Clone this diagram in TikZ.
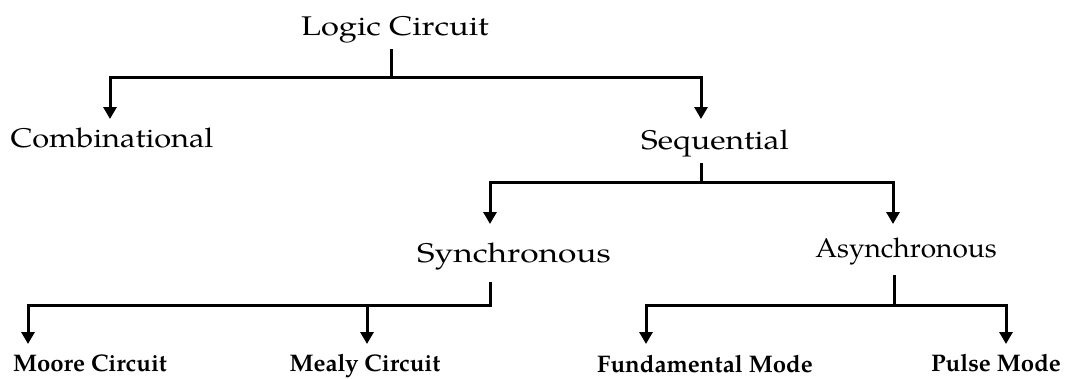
\documentclass[tikz,border=0pt]{standalone}
\usepackage{fontspec}
\setmainfont{TeX Gyre Pagella}
\usetikzlibrary{arrows.meta}
\begin{document}
\begin{tikzpicture}[x=1pt,y=-1pt,
  lbl/.style={inner sep=0pt, anchor=base, font=\fontsize{27}{30}\selectfont},
  leaf/.style={inner sep=0pt, anchor=base, font=\bfseries\fontsize{24}{27}\selectfont},
  link/.style={line width=3pt},
  arr/.style={link, -{Triangle[width=13pt,length=12pt]}}]
\useasboundingbox (0,0) rectangle (1088,378);
% nodes
\node[lbl] (lc) at (395,35) {\scalebox{1.21}[1]{Logic Circuit}};
\node[lbl] (comb) at (112,147) {\scalebox{1.14}[1]{Combinational}};
\node[lbl] (seq) at (715,149) {\scalebox{1.18}[1]{Sequential}};
\node[lbl] (sync) at (514,262) {\scalebox{1.24}[1]{Synchronous}};
\node[lbl] (async) at (906,257) {\scalebox{1.04}[1]{Asynchronous}};
\node[leaf] (moore) at (90,371) {Moore Circuit};
\node[leaf] (mealy) at (365,371) {Mealy Circuit};
\node[leaf] (fund) at (705,372) {Fundamental Mode};
\node[leaf] (pulse) at (996,371) {Pulse Mode};
% junction coordinates
\coordinate (lcS) at (391,49);
\coordinate (j1) at (391,77);
\coordinate (combN) at (110,119);
\coordinate (seqN) at (701,119);
\coordinate (seqS) at (701,163);
\coordinate (j2) at (701,182);
\coordinate (syncN) at (490,224);
\coordinate (asyncN) at (893,224);
\coordinate (syncS) at (490,282);
\coordinate (j3) at (490,305);
\coordinate (j3m) at (367,305);
\coordinate (mooreN) at (28,344);
\coordinate (mealyN) at (367,344);
\coordinate (asyncS) at (894,275);
\coordinate (j4) at (894,305);
\coordinate (fundN) at (646,344);
\coordinate (pulseN) at (1006,344);
% connectors
\draw[link] (lcS) -- (j1);
\draw[arr] (j1) -| (combN);
\draw[arr] (j1) -| (seqN);
\draw[link] (seqS) -- (j2);
\draw[arr] (j2) -| (syncN);
\draw[arr] (j2) -| (asyncN);
\draw[arr] (syncS) -- (j3) -| (mooreN);
\draw[arr] (j3m) -- (mealyN);
\draw[link] (asyncS) -- (j4);
\draw[arr] (j4) -| (fundN);
\draw[arr] (j4) -| (pulseN);
\end{tikzpicture}
\end{document}
